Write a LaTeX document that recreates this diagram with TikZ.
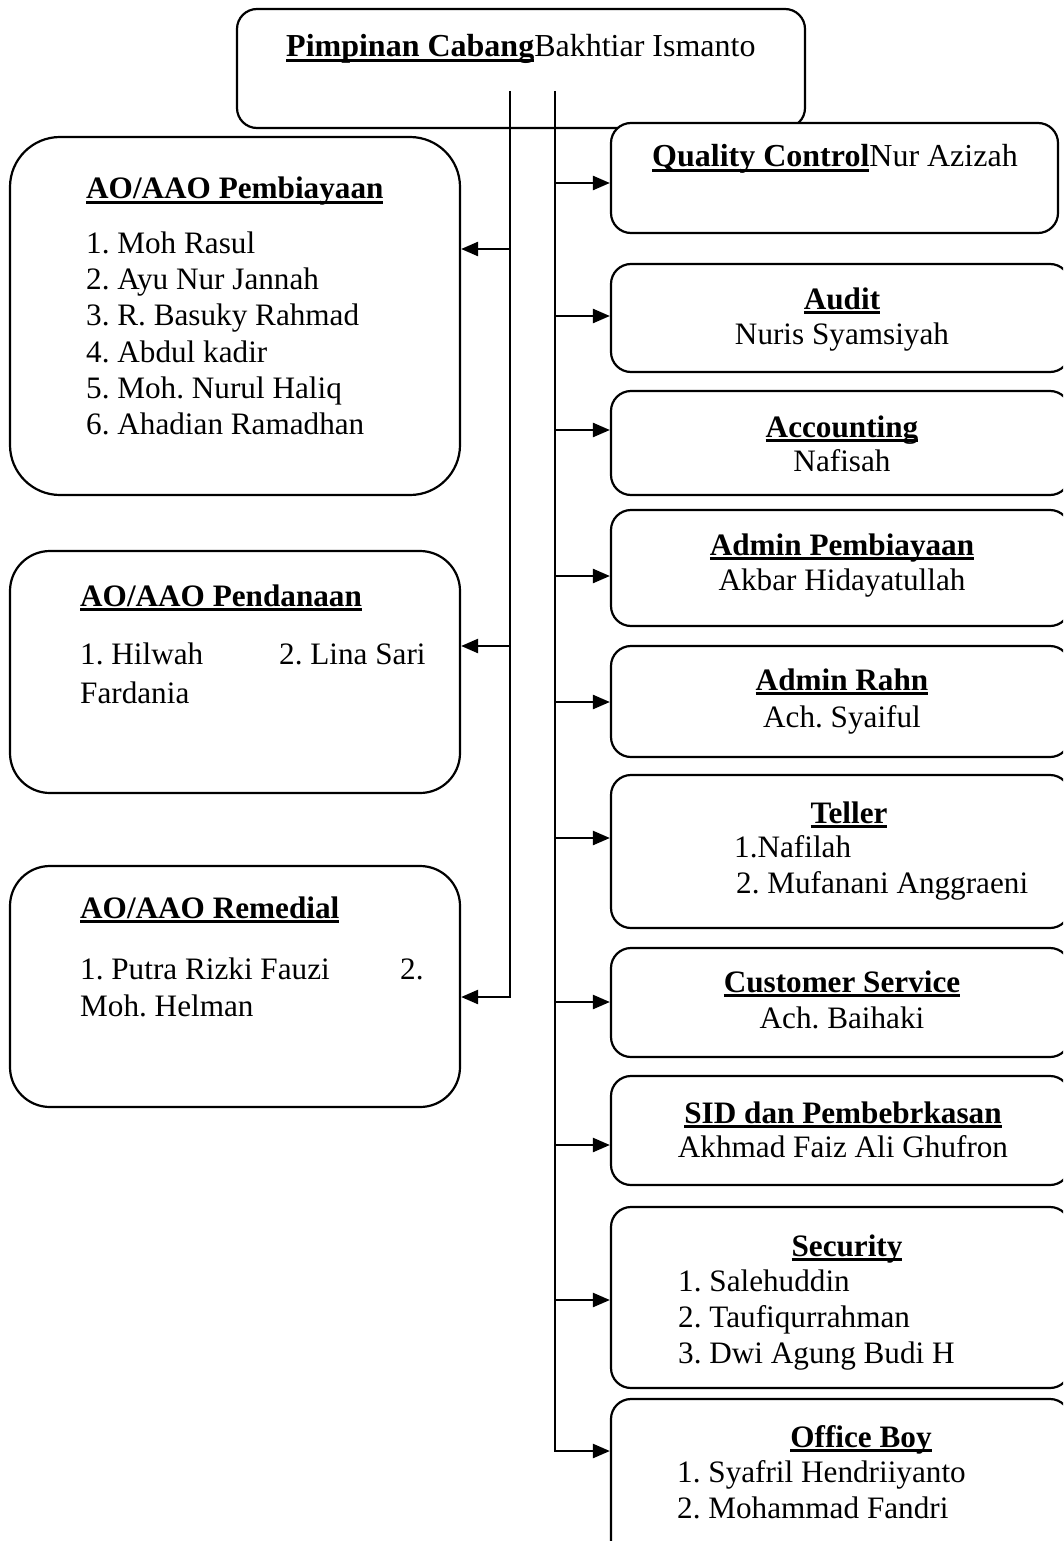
\documentclass[tikz,border=0pt]{standalone}
\usepackage{fontspec}
\setmainfont{Liberation Serif}
\usetikzlibrary{arrows.meta}
\frenchspacing
\newcommand\myul[1]{\setbox0\hbox{#1}\rlap{\rule[-4.6pt]{\wd0}{2.3pt}}\box0}
\newcommand\myfs{\fontsize{31.2pt}{36.2pt}\selectfont\frenchspacing}
\newcommand\mybigfs{\fontsize{32pt}{36.2pt}\selectfont\frenchspacing}
\begin{document}
\begin{tikzpicture}[x=1pt,y=-1pt,
  box/.style={draw, line width=2.2pt, rounded corners=#1, inner sep=0pt, fill=white},
  box/.default=20pt,
  txt/.style={inner sep=0pt, font=\myfs},
  bigtxt/.style={inner sep=0pt, font=\mybigfs},
  link/.style={line width=2.4pt, -{Triangle[length=17pt,width=14pt]}}]
\useasboundingbox (0,0) rectangle (1063,1541);
\clip (0,0) rectangle (1063,1541);

% ---- boxes ----
\node[box, minimum width=568pt, minimum height=119pt] (top) at (521,68.5) {};
\node[box=50pt, minimum width=450pt, minimum height=358pt] (pemb) at (235,316) {};
\node[box=40pt, minimum width=450pt, minimum height=242pt] (pend) at (235,672) {};
\node[box=40pt, minimum width=450pt, minimum height=241pt] (reme) at (235,986.5) {};
\node[box, minimum width=447pt, minimum height=110pt] (qc) at (834.5,178) {};
\node[box, minimum width=459pt, minimum height=108pt] (aud) at (840.5,318) {};
\node[box, minimum width=459pt, minimum height=104pt] (acc) at (840.5,443) {};
\node[box, minimum width=459pt, minimum height=116pt] (adp) at (840.5,568) {};
\node[box, minimum width=459pt, minimum height=111pt] (adr) at (840.5,701.5) {};
\node[box, minimum width=459pt, minimum height=153pt] (tel) at (840.5,851.5) {};
\node[box, minimum width=459pt, minimum height=109pt] (cs) at (840.5,1002.5) {};
\node[box, minimum width=459pt, minimum height=109pt] (sid) at (840.5,1130.5) {};
\node[box, minimum width=459pt, minimum height=181pt] (sec) at (840.5,1297.5) {};
\node[box, minimum width=459pt, minimum height=161pt] (ob) at (840.5,1479.5) {};

% ---- texts ----
\node[bigtxt, anchor=base west] (topT) at (286,57) {\myul{\bfseries Pimpinan Cabang}Bakhtiar Ismanto};

\node[txt, anchor=base west] (pembT) at (86,199) {\myul{\bfseries AO/AAO Pembiayaan}};
\node[txt, anchor=base west] (pemb1) at (86,253) {1. Moh Rasul};
\node[txt, anchor=base west] (pemb2) at (86,289) {2. Ayu Nur Jannah};
\node[txt, anchor=base west] (pemb3) at (86,325.5) {3. R. Basuky Rahmad};
\node[txt, anchor=base west] (pemb4) at (86,362) {4. Abdul kadir};
\node[txt, anchor=base west] (pemb5) at (86,398) {5. Moh. Nurul Haliq};
\node[txt, anchor=base west] (pemb6) at (86,434.5) {6. Ahadian Ramadhan};

\node[txt, anchor=base west] (pendT) at (80,606) {\myul{\bfseries AO/AAO Pendanaan}};
\node[txt, anchor=base west] (pend1) at (80,664) {1. Hilwah};
\node[txt, anchor=base west] (pend2) at (279,664) {2. Lina Sari};
\node[txt, anchor=base west] (pend3) at (80,703) {Fardania};

\node[txt, anchor=base west] (remeT) at (80,918) {\myul{\bfseries AO/AAO Remedial}};
\node[txt, anchor=base west] (reme1) at (80,979) {1. Putra Rizki Fauzi};
\node[txt, anchor=base west] (reme2) at (400,979) {2.};
\node[txt, anchor=base west] (reme3) at (80,1016) {Moh. Helman};

\node[bigtxt, anchor=base west] (qcT) at (652,167) {\myul{\bfseries Quality Control}Nur Azizah};

\node[txt, anchor=base] (audT) at (842,309) {\myul{\bfseries Audit}};
\node[txt, anchor=base] (audN) at (842,344) {Nuris Syamsiyah};

\node[txt, anchor=base] (accT) at (842,437) {\myul{\bfseries Accounting}};
\node[txt, anchor=base] (accN) at (842,471) {Nafisah};

\node[txt, anchor=base] (adpT) at (842,555) {\myul{\bfseries Admin Pembiayaan}};
\node[txt, anchor=base] (adpN) at (842,590) {Akbar Hidayatullah};

\node[txt, anchor=base] (adrT) at (842,690) {\myul{\bfseries Admin Rahn}};
\node[txt, anchor=base] (adrN) at (842,727) {Ach. Syaiful};

\node[txt, anchor=base] (telT) at (849,823) {\myul{\bfseries Teller}};
\node[txt, anchor=base west] (tel1) at (734,857) {1.Nafilah};
\node[txt, anchor=base west] (tel2) at (736,893) {2. Mufanani Anggraeni};

\node[txt, anchor=base] (csT) at (842,992) {\myul{\bfseries Customer Service}};
\node[txt, anchor=base] (csN) at (842,1028) {Ach. Baihaki};

\node[txt, anchor=base] (sidT) at (843,1123) {\myul{\bfseries SID dan Pembebrkasan}};
\node[txt, anchor=base] (sidN) at (843,1157) {Akhmad Faiz Ali Ghufron};

\node[txt, anchor=base] (secT) at (847,1256) {\myul{\bfseries Security}};
\node[txt, anchor=base west] (sec1) at (678,1291) {1. Salehuddin};
\node[txt, anchor=base west] (sec2) at (678,1327) {2. Taufiqurrahman};
\begin{scope}
  \clip (600,1200) rectangle (1063,1370);
  \node[txt, anchor=base west] (sec3) at (678,1363.5) {3. Dwi Agung Budi H};
\end{scope}

\node[txt, anchor=base] (obT) at (861,1447) {\myul{\bfseries Office Boy}};
\node[txt, anchor=base west] (ob1) at (677,1482) {1. Syafril Hendriiyanto};
\node[txt, anchor=base west] (ob2) at (677,1518) {2. Mohammad Fandri};

% ---- connectors ----
\coordinate (Ltop) at (510,91);
\coordinate (Rtop) at (555,91);
\coordinate (l1) at (510,249);
\coordinate (l2) at (510,646);
\coordinate (l3) at (510,997);
\coordinate (r1) at (555,183);
\coordinate (r2) at (555,316);
\coordinate (r3) at (555,430);
\coordinate (r4) at (555,576);
\coordinate (r5) at (555,702);
\coordinate (r6) at (555,838);
\coordinate (r7) at (555,1002);
\coordinate (r8) at (555,1145);
\coordinate (r9) at (555,1300);
\coordinate (r10) at (555,1451);

\draw[link] (Ltop) |- (l3 -| reme.east);
\draw[link] (l1) -- (l1 -| pemb.east);
\draw[link] (l2) -- (l2 -| pend.east);

\draw[link] (Rtop) |- (r10 -| ob.west);
\draw[link] (r1) -- (r1 -| qc.west);
\draw[link] (r2) -- (r2 -| aud.west);
\draw[link] (r3) -- (r3 -| acc.west);
\draw[link] (r4) -- (r4 -| adp.west);
\draw[link] (r5) -- (r5 -| adr.west);
\draw[link] (r6) -- (r6 -| tel.west);
\draw[link] (r7) -- (r7 -| cs.west);
\draw[link] (r8) -- (r8 -| sid.west);
\draw[link] (r9) -- (r9 -| sec.west);
\end{tikzpicture}
\end{document}
